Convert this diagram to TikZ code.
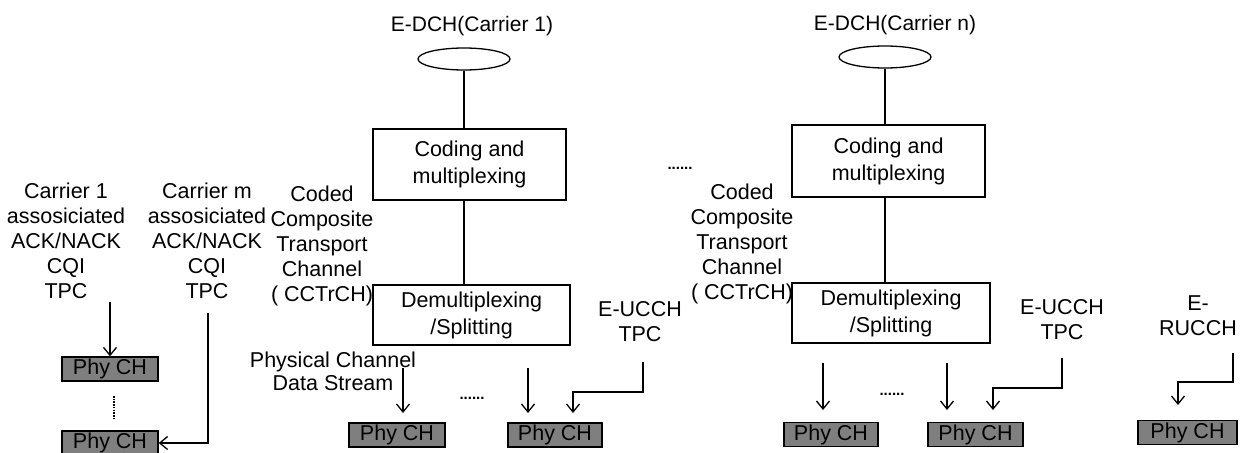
\documentclass[tikz,border=0pt]{standalone}
\usepackage{fontspec}
\setmainfont{Liberation Sans}
\usetikzlibrary{arrows.meta,shapes.geometric}
\definecolor{phygray}{RGB}{127,127,127}
\begin{document}
\begin{tikzpicture}[x=1pt,y=-1pt,
  txt/.style={align=center, inner sep=0pt, font=\fontsize{21.5}{25}\selectfont},
  blk/.style={draw, line width=1.3pt, align=center, inner sep=0pt, font=\fontsize{21.5}{27}\selectfont},
  phy/.style={draw, line width=1.3pt, fill=phygray, inner sep=0pt, minimum height=24pt, font=\fontsize{21.5}{24}\selectfont},
  ell/.style={draw, ellipse, line width=1.3pt, minimum width=92pt, minimum height=22pt, inner sep=0pt},
  dots/.style={inner sep=0pt, font=\fontsize{15}{15}\bfseries\selectfont, anchor=base},
  ln/.style={line width=1.3pt},
  arr/.style={line width=1.3pt, -{Straight Barb[length=8pt,width=13pt]}},
]
\useasboundingbox (0,0) rectangle (1246,452);

% left column
\node[txt] (t1) at (66,241) {Carrier 1\\assosiciated\\ACK/NACK\\CQI\\TPC};
\node[txt] (t2) at (207,241) {Carrier m\\assosiciated\\ACK/NACK\\CQI\\TPC};
\node[phy, minimum width=96pt] (p1) at (110,369) {Phy CH};
\node[phy, minimum width=96pt] (p2) at (110,443) {Phy CH};
\coordinate (v1) at (114,396);
\coordinate (v2) at (114,418);
\draw[line width=2.6pt, dash pattern=on 1.6pt off 1.1pt] (v1) -- (v2);
\coordinate (a1s) at (110,302);
\draw[arr] (a1s) -- (p1.north);
\coordinate (a2s) at (208,313);
\draw[arr] (a2s) |- (p2.east);

% first carrier column
\node[txt, font=\fontsize{21}{25}\selectfont] (l1) at (472,26) {E-DCH(Carrier 1)};
\node[ell] (e1) at (464,59) {};
\node[blk, minimum width=193pt, minimum height=71pt] (c1) at (469.5,164.5) {Coding and\\multiplexing};
\node[blk, minimum width=197pt, minimum height=60pt] (d1) at (471.5,315) {Demultiplexing\\/Splitting};
\draw[ln] (e1.south) -- (e1.south |- c1.north);
\draw[ln] (e1.south |- c1.south) -- (e1.south |- d1.north);
\node[txt] (cc1) at (322,246) {Coded\\Composite\\Transport\\Channel\\( CCTrCH)};
\node[txt, font=\fontsize{21.5}{23}\selectfont] (ps) at (333,371) {Physical Channel\\Data Stream};
\node[phy, minimum width=96pt] (p3) at (397,435) {Phy CH};
\node[phy, minimum width=94pt] (p4) at (555,435) {Phy CH};
\node[dots] (dd1) at (472,399) {......};
\node[txt] (u1) at (640,322) {E-UCCH\\TPC};
\coordinate (m1s) at (403,368);
\coordinate (m1e) at (403,413);
\draw[arr] (m1s) -- (m1e);
\coordinate (m2s) at (528,368);
\coordinate (m2e) at (528,413);
\draw[arr] (m2s) -- (m2e);
\coordinate (u1s) at (643,362);
\coordinate (u1e) at (573,413);
\draw[arr] (u1s) -- (643,392) -| (u1e);

% middle dots
\node[dots] (dtop) at (680,169) {......};

% n-th carrier column
\node[txt, font=\fontsize{21}{25}\selectfont] (l2) at (895,25) {E-DCH(Carrier n)};
\node[ell] (e2) at (885,57) {};
\node[blk, minimum width=193pt, minimum height=72pt] (c2) at (888.5,161) {Coding and\\multiplexing};
\node[blk, minimum width=198pt, minimum height=60pt] (d2) at (891,313) {Demultiplexing\\/Splitting};
\draw[ln] (e2.south) -- (e2.south |- c2.north);
\draw[ln] (e2.south |- c2.south) -- (e2.south |- d2.north);
\node[txt] (cc2) at (742,244) {Coded\\Composite\\Transport\\Channel\\( CCTrCH)};
\node[phy, minimum width=94pt] (p5) at (831,434.5) {Phy CH};
\node[phy, minimum width=95pt] (p6) at (975.5,434.5) {Phy CH};
\node[dots] (dd2) at (892,395) {......};
\node[txt] (u2) at (1062,320) {E-UCCH\\TPC};
\coordinate (n1s) at (823,363);
\coordinate (n1e) at (823,410);
\draw[arr] (n1s) -- (n1e);
\coordinate (n2s) at (947,363);
\coordinate (n2e) at (947,410);
\draw[arr] (n2s) -- (n2e);
\coordinate (u2s) at (1062,358);
\coordinate (u2e) at (993,410);
\draw[arr] (u2s) -- (1062,388) -| (u2e);

% E-RUCCH
\node[txt] (r1) at (1198,315.5) {E-\\RUCCH};
\node[phy, minimum width=99pt] (p7) at (1187.5,432.5) {Phy CH};
\coordinate (r1s) at (1233,353);
\coordinate (r1e) at (1178,405);
\draw[arr] (r1s) -- (1233,382) -| (r1e);
\end{tikzpicture}
\end{document}
